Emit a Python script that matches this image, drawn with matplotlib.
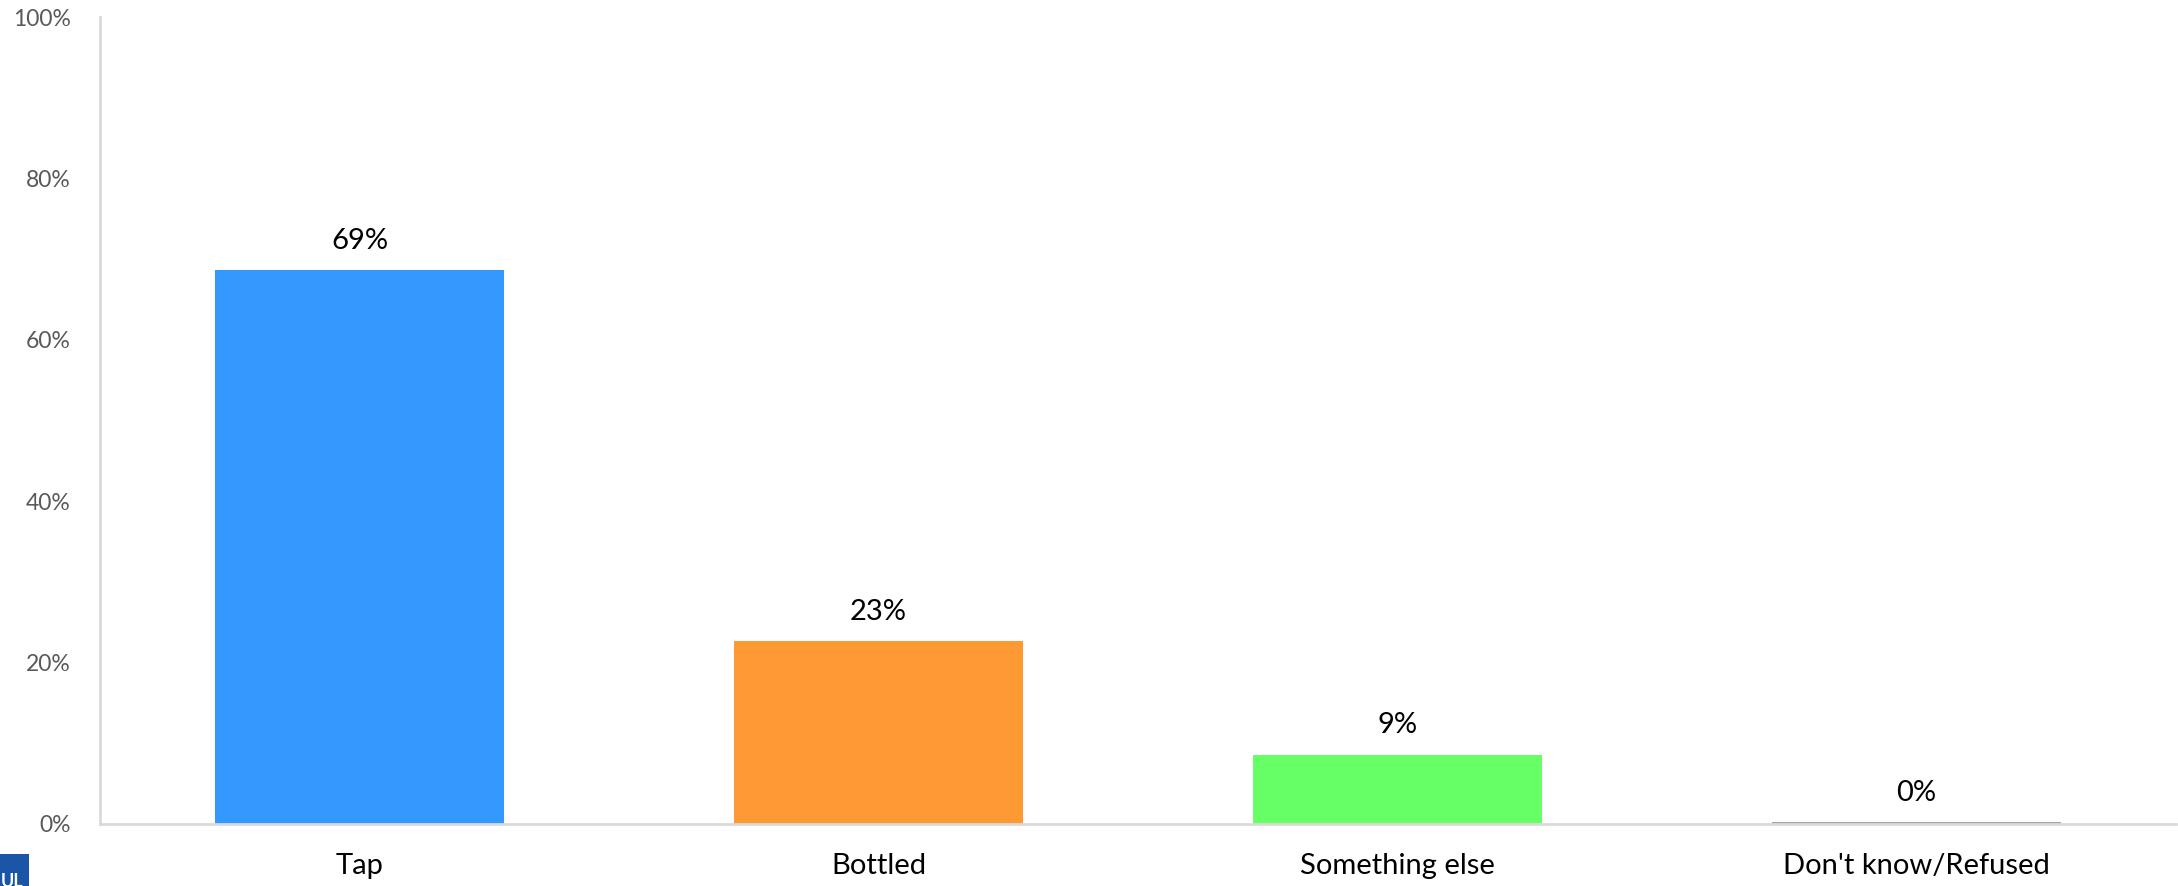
import matplotlib
matplotlib.use("Agg")
import matplotlib.pyplot as plt
from matplotlib.patches import Rectangle

plt.rcParams['font.family'] = ['Lato', 'DejaVu Sans']

categories = ["Tap", "Bottled", "Something else", "Don't know/Refused"]
shares = [68.6, 22.7, 8.6, 0.2]
bar_colors = ["#3399FF", "#FF9933", "#66FF66", "#A6A6A6"]
yticks = [0, 20, 40, 60, 80, 100]

fig = plt.figure(figsize=(21.78, 8.86), dpi=100)
ax = fig.add_axes([0.0459, 0.0700, 0.9532, 0.9108])

x = range(len(categories))
bars = ax.bar(x, shares, width=0.557, color=bar_colors)

for b, v in zip(bars, shares):
	ax.annotate(f"{v:.0f}%", (b.get_x() + b.get_width() / 2, v),
		xytext=(0, 21), textcoords="offset points",
		ha="center", va="center", fontsize=21, color="black")

ax.set_xlim(-0.5, len(categories) - 0.5)
ax.set_ylim(0, 100)
ax.set_yticks(yticks)
ax.set_yticklabels([f"{t}%" for t in yticks], fontsize=16.5, color="#595959")
ax.set_xticks(list(x))
ax.set_xticklabels(categories, fontsize=21, color="black")
ax.tick_params(axis="both", length=0)
ax.tick_params(axis="y", pad=21)
ax.tick_params(axis="x", pad=21)

for s in ["top", "right"]:
	ax.spines[s].set_visible(False)
for s in ["left", "bottom"]:
	ax.spines[s].set_color("#D9D9D9")
	ax.spines[s].set_linewidth(2)

# small logo badge in the lower-left corner
fig.patches.append(Rectangle((0, 0), 29 / 2178, 32 / 886, transform=fig.transFigure,
	facecolor="#1A55A8", edgecolor="none"))
fig.text(1 / 2178, -4 / 886, "UL", fontsize=13, color="white", fontweight="bold",
	ha="left", va="bottom")

fig.savefig("out.png", dpi=100)
